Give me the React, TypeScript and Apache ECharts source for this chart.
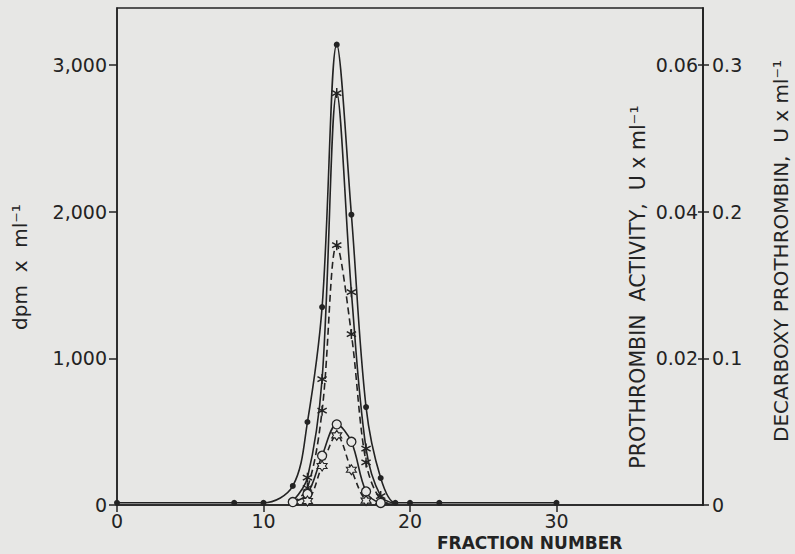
import React, { useEffect, useRef } from "react";
import * as echarts from "echarts";

// ---- data ----
const xTicks = [0, 10, 20, 30];
const dpmTicks = [0, 1000, 2000, 3000];
const activityTicks = [0.02, 0.04, 0.06];
const decarboxyTicks = [0, 0.1, 0.2, 0.3];

// filled dots, solid line (dpm)
const fractionsA = [0, 8, 10, 12, 13, 14, 15, 16, 17, 18, 19, 20, 22, 30];
const valuesA = [15, 15, 15, 130, 566, 1350, 3140, 1980, 668, 184, 15, 15, 15, 15];

// asterisks, solid line
const fractionsB = [12, 13, 14, 15, 16, 17, 18, 19];
const valuesB = [25, 186, 859, 2810, 1452, 385, 61, 10];
const unmarkedB = [12, 19];

// asterisks, dashed line
const fractionsC = [12, 13, 14, 15, 16, 17, 18, 19];
const valuesC = [15, 116, 643, 1772, 1166, 290, 35, 8];
const unmarkedC = [12, 18, 19];

// open circles, solid line
const fractionsD = [12, 13, 14, 15, 16, 17, 18, 19];
const valuesD = [20, 75, 336, 550, 431, 92, 14, 6];
const unmarkedD = [19];

// open stars, dashed line
const fractionsE = [12, 13, 14, 15, 16, 17, 18];
const valuesE = [6, 27, 266, 475, 240, 30, 6];
const unmarkedE = [12, 18];

const BG = "#e7e7e5";
const INK = "#232323";
const FONT = "DejaVu Sans";

const ASTERISK =
  "path://M-0.7,-5 L0.7,-5 L0.7,5 L-0.7,5 Z M-4.68,-1.89 L-3.98,-3.11 L4.68,1.89 L3.98,3.11 Z M3.98,-3.11 L4.68,-1.89 L-3.98,3.11 L-4.68,1.89 Z";
const STAR6 =
  "path://M0,-5 L1.45,-2.51 L4.33,-2.5 L2.9,0 L4.33,2.5 L1.45,2.51 L0,5 L-1.45,2.51 L-4.33,2.5 L-2.9,0 L-4.33,-2.5 L-1.45,-2.51 Z";

function build(fr: number[], vals: number[], unmarked: number[] = []) {
  return fr.map((f, i) =>
    unmarked.includes(f)
      ? { value: [f, vals[i]], symbol: "none" }
      : { value: [f, vals[i]] }
  );
}

export default function App() {
  const ref = useRef<HTMLDivElement>(null);
  useEffect(() => {
    if (!ref.current) return;
    const chart = echarts.init(ref.current, null, { renderer: "svg" });
    const labelStyle = { fontFamily: FONT, fontSize: 19, color: INK };
    const lineBase = { color: INK, width: 1.6 };
    chart.setOption({
      animation: false,
      backgroundColor: BG,
      grid: {
        left: 117,
        right: 92,
        top: 8,
        bottom: 49,
        show: true,
        borderColor: INK,
        borderWidth: 1.5,
        backgroundColor: "transparent",
      },
      xAxis: {
        type: "value",
        min: 0,
        max: 40,
        interval: 10,
        axisLine: { show: true, lineStyle: { color: INK, width: 1.5 } },
        axisTick: { show: true, length: 7, customValues: xTicks, lineStyle: { color: INK, width: 1.5 } },
        axisLabel: { ...labelStyle, margin: 6, customValues: xTicks },
        splitLine: { show: false },
      },
      yAxis: [
        {
          type: "value",
          min: 0,
          max: 3390,
          position: "left",
          axisLine: { show: true, lineStyle: { color: INK, width: 1.5 } },
          axisTick: { show: true, length: 8, customValues: dpmTicks, lineStyle: { color: INK, width: 1.5 } },
          axisLabel: {
            ...labelStyle,
            margin: 10,
            customValues: dpmTicks,
            formatter: (v: number) => v.toLocaleString("en-US"),
          },
          splitLine: { show: false },
        },
        {
          type: "value",
          min: 0,
          max: 0.0678,
          position: "right",
          axisLine: { show: true, lineStyle: { color: INK, width: 1.5 } },
          axisTick: { show: true, inside: true, length: 5, customValues: activityTicks, lineStyle: { color: INK, width: 1.5 } },
          axisLabel: {
            ...labelStyle,
            inside: true,
            margin: 5,
            customValues: activityTicks,
            formatter: (v: number) => v.toFixed(2),
          },
          splitLine: { show: false },
        },
        {
          type: "value",
          min: 0,
          max: 0.339,
          position: "right",
          axisLine: { show: true, lineStyle: { color: INK, width: 1.5 } },
          axisTick: { show: true, length: 6, customValues: decarboxyTicks, lineStyle: { color: INK, width: 1.5 } },
          axisLabel: {
            ...labelStyle,
            margin: 9,
            customValues: decarboxyTicks,
            formatter: (v: number) => (v === 0 ? "0" : v.toFixed(1)),
          },
          splitLine: { show: false },
        },
      ],
      series: [
        {
          type: "line",
          yAxisIndex: 0,
          data: build(fractionsA, valuesA),
          smooth: 0.35,
          symbol: "circle",
          symbolSize: 6,
          lineStyle: { ...lineBase },
          itemStyle: { color: INK },
          z: 3,
        },
        {
          type: "line",
          yAxisIndex: 0,
          data: build(fractionsB, valuesB, unmarkedB),
          smooth: 0.35,
          symbol: ASTERISK,
          symbolSize: 10,
          lineStyle: { ...lineBase },
          itemStyle: { color: INK },
          z: 3,
        },
        {
          type: "line",
          yAxisIndex: 0,
          data: build(fractionsC, valuesC, unmarkedC),
          smooth: 0.35,
          symbol: ASTERISK,
          symbolSize: 10,
          lineStyle: { ...lineBase, type: [7, 4] },
          itemStyle: { color: INK },
          z: 3,
        },
        {
          type: "line",
          yAxisIndex: 0,
          data: build(fractionsD, valuesD, unmarkedD),
          smooth: 0.35,
          symbol: "circle",
          symbolSize: 9,
          lineStyle: { ...lineBase },
          itemStyle: { color: BG, borderColor: INK, borderWidth: 1.3 },
          z: 4,
        },
        {
          type: "line",
          yAxisIndex: 0,
          data: build(fractionsE, valuesE, unmarkedE),
          smooth: 0.35,
          symbol: STAR6,
          symbolSize: 10,
          lineStyle: { ...lineBase, type: [6, 4] },
          itemStyle: { color: BG, borderColor: INK, borderWidth: 1.1 },
          z: 4,
        },
      ],
      graphic: [
        {
          type: "text",
          x: 20,
          y: 267,
          rotation: Math.PI / 2,
          style: { text: "dpm  x  ml⁻¹", fontFamily: FONT, fontSize: 20, fill: INK, align: "center", verticalAlign: "middle" },
        },
        {
          type: "text",
          x: 638,
          y: 287,
          rotation: Math.PI / 2,
          style: {
            text: "PROTHROMBIN  ACTIVITY,  U x ml⁻¹",
            fontFamily: FONT,
            fontSize: 20.5,
            fill: INK,
            align: "center",
            verticalAlign: "middle",
          },
        },
        {
          type: "text",
          x: 781,
          y: 251,
          rotation: Math.PI / 2,
          style: {
            text: "DECARBOXY PROTHROMBIN,  U x ml⁻¹",
            fontFamily: FONT,
            fontSize: 20,
            fill: INK,
            align: "center",
            verticalAlign: "middle",
          },
        },
        {
          type: "text",
          x: 437,
          y: 543,
          style: { text: "FRACTION NUMBER", fontFamily: FONT, fontSize: 17, fontWeight: "bold", fill: INK, align: "left", verticalAlign: "middle" },
        },
      ],
    });
    return () => chart.dispose();
  }, []);
  return (
    <div
      ref={ref}
      style={{ position: "fixed", left: 0, top: 0, width: 795, height: 554, background: BG }}
    />
  );
}
